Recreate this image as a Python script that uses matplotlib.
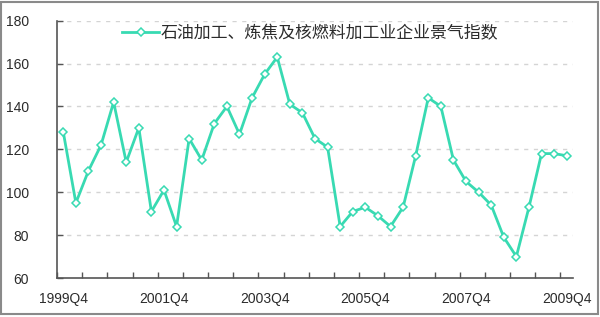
import numpy as np
import matplotlib
matplotlib.use('Agg')
import matplotlib.pyplot as plt
from matplotlib.patches import Rectangle

plt.rcParams['font.family'] = ['Liberation Sans', 'Noto Sans CJK SC', 'DejaVu Sans']

# quarterly index, 1999Q4 .. 2009Q4
quarters = [f'{y}Q{q}' for y in range(1999, 2010) for q in (1, 2, 3, 4)][3:]
values = [128, 95, 110, 122, 142, 114, 130, 91, 101, 84,
          125, 115, 132, 140, 127, 144, 155, 163, 141, 137,
          125, 121, 84, 91, 93, 89, 84, 93, 117, 144,
          140, 115, 105, 100, 94, 79, 70, 93, 118, 118, 117]
series_name = '石油加工、炼焦及核燃料加工业企业景气指数'
y_ticks = [60, 80, 100, 120, 140, 160, 180]

line_color = '#38dab2'
text_color = '#2b2b2b'

fig = plt.figure(figsize=(6, 3.17), dpi=100)
ax = fig.add_axes([0.095, 0.123, 0.86, 0.812])

x = np.arange(len(values))
ax.plot(x, values, color=line_color, linewidth=2, marker='D', markersize=4.5,
        markerfacecolor='white', markeredgecolor=line_color, markeredgewidth=1.1,
        label=series_name)

ax.set_ylim(60, 180)
ax.set_xlim(-0.5, len(values) - 0.5)
ax.set_yticks(y_ticks)
for v in y_ticks[1:]:
    ax.axhline(v, color='#d4d4d4', linewidth=1, linestyle=(0, (3, 4)), zorder=0)

# labels every 8 quarters, tick marks every 2
label_idx = list(range(0, len(values), 8))
ax.set_xticks(label_idx)
ax.set_xticklabels([quarters[i] for i in label_idx])
ax.set_xticks(np.arange(-0.5, len(values), 2), minor=True)
ax.tick_params(axis='x', which='major', length=0, pad=10, labelsize=10, labelcolor=text_color)
ax.tick_params(axis='x', which='minor', direction='in', length=4, width=1, color='#555555')
ax.tick_params(axis='y', direction='in', length=4, width=1, color='#555555',
               labelsize=10, labelcolor=text_color, pad=20)

for s in ('top', 'right'):
    ax.spines[s].set_visible(False)
for s in ('left', 'bottom'):
    ax.spines[s].set_color('#555555')
    ax.spines[s].set_linewidth(1.2)

leg = ax.legend(loc='upper left', bbox_to_anchor=(0.113, 1.012), frameon=False,
                handlelength=2.2, handletextpad=0.1, borderaxespad=0,
                prop={'family': ['Noto Sans CJK SC', 'DejaVu Sans'], 'size': 12.2})
for t in leg.get_texts():
    t.set_color(text_color)

fig.patches.append(Rectangle((0.002, 0.01), 0.994, 0.985, transform=fig.transFigure,
                             fill=False, edgecolor='#8a8a8a', linewidth=1.5))

fig.savefig('out.png', dpi=100)
